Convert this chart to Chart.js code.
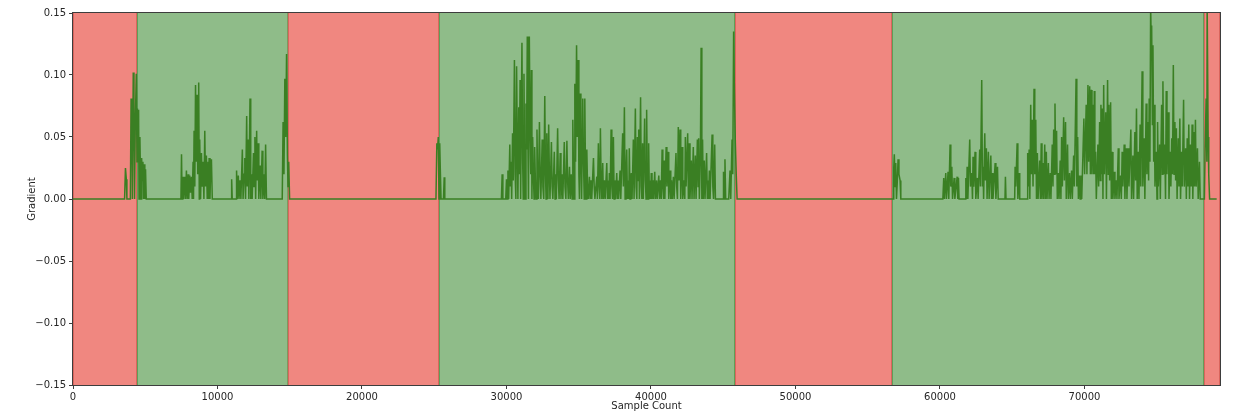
<!DOCTYPE html>
<html>
<head>
<meta charset="utf-8">
<title>Gradient vs Sample Count</title>
<script src="https://cdn.jsdelivr.net/npm/chart.js@4.4.1/dist/chart.umd.min.js"></script>
<style>
  html, body { margin: 0; padding: 0; background: #ffffff; }
  #gradient-chart { display: block; }
</style>
</head>
<body>
<canvas id="gradient-chart" width="1246" height="412"></canvas>
<script>
// --- Data ---

// Axis ranges and ticks
const xMin = 0;
const xMax = 79380;
const xTicks = [0, 10000, 20000, 30000, 40000, 50000, 60000, 70000];
const yTicks = [-0.15, -0.10, -0.05, 0.00, 0.05, 0.10, 0.15];

// Shaded regions (sample count ranges)
const bandStarts = [0, 4450, 14865, 25330, 45840, 56710, 78270];
const bandEnds = [4450, 14865, 25330, 45840, 56710, 78270, 79380];
const bandKinds = ['red', 'green', 'red', 'green', 'red', 'green', 'red'];

// Gradient series, [sample, gradient] pairs, one array per burst
const burst1 = [[0,0],[3570,0],[3630,0.025],[3690,0.016],[3730,0],[3970,0],[4020,0.081],[4070,0.064],[4110,0],
  [4170,0.102],[4220,0.07],[4260,0],[4310,0.06],[4380,0.101],[4430,0.03],[4460,0.073],[4510,0.048],[4540,0.072],
  [4570,0],[4630,0.05],[4670,0.02],[4710,0],[4750,0.033],[4800,0.015],[4840,0.03],[4880,0],[4930,0.028],[4970,0],
  [5020,0.024],[5070,0]];
const burst2 = [[7470,0],[7510,0.036],[7550,0],[7600,0.018],[7650,0],[7700,0.018],[7740,0.01],[7780,0],[7850,0.023],
  [7900,0],[7970,0.02],[8010,0],[8080,0.019],[8130,0.005],[8200,0.018],[8250,0],[8310,0.03],[8340,0],[8380,0.055],
  [8430,0.01],[8480,0.092],[8530,0.03],[8590,0.084],[8630,0.02],[8660,0.05],[8700,0.094],[8740,0],[8770,0.048],
  [8830,0],[8890,0.037],[8940,0.01],[9000,0.03],[9060,0],[9120,0.055],[9170,0.01],[9230,0.035],[9290,0],[9350,0.03],
  [9380,0],[9420,0.033],[9480,0],[9530,0.025],[9580,0.032],[9640,0],[9700,0]];
const burst3 = [[10950,0],[10980,0.016],[11020,0],[11300,0],[11320,0.023],[11370,0],[11440,0.019],[11490,0],
  [11560,0.015],[11620,0],[11720,0.04],[11770,0],[11840,0.02],[11890,0.033],[11940,0],[12020,0.067],[12060,0.01],
  [12120,0.048],[12170,0],[12250,0.081],[12300,0],[12350,0.02],[12400,0],[12490,0.037],[12530,0.01],[12590,0.05],
  [12640,0],[12710,0.055],[12750,0.015],[12810,0.045],[12860,0],[12950,0.027],[13000,0],[13090,0.039],[13140,0],
  [13220,0.02],[13270,0],[13330,0.044],[13390,0]];
const burst4 = [[14480,0],[14540,0.062],[14600,0.02],[14660,0.097],[14720,0.05],[14780,0.117],[14840,0.035],
  [14880,0.01],[14930,0.03],[14990,0],[15050,0]];
const burst5 = [[25120,0],[25180,0.045],[25230,0.04],[25280,0.05],[25330,0],[25380,0.045],[25420,0.024],[25470,0],
  [25640,0],[25690,0.0175],[25730,0]];
const burst6 = [[29650,0],[29700,0.02],[29750,0],[29950,0],[30000,0.016],[30040,0],[30100,0.023],[30150,0],
  [30230,0.044],[30270,0.01],[30320,0.03],[30360,0],[30420,0.053],[30470,0.015],[30550,0.112],[30600,0.02],[30650,0],
  [30700,0.107],[30750,0.04],[30790,0],[30850,0.074],[30890,0.02],[30940,0.096],[30980,0],[31070,0.126],[31120,0.03],
  [31160,0],[31210,0.101],[31260,0.02],[31300,0],[31350,0.077],[31390,0.04],[31440,0.131],[31480,0.05],[31520,0],
  [31580,0.131],[31630,0.06],[31680,0.02],[31720,0.104],[31760,0],[31810,0.05],[31860,0.02],[31910,0],[31950,0.042],
  [32000,0.015],[32060,0],[32110,0.056],[32160,0.01],[32210,0],[32280,0.062],[32330,0.02],[32380,0],[32470,0.048],
  [32520,0.01],[32580,0],[32650,0.083],[32700,0.02],[32740,0],[32790,0.053],[32840,0.015],[32870,0],[32920,0.06],
  [32970,0.02],[33010,0],[33110,0.046],[33160,0.01],[33210,0],[33310,0.038],[33360,0],[33410,0.02],[33450,0],
  [33540,0.057],[33590,0.015],[33640,0],[33720,0.037],[33770,0],[33850,0.02],[33900,0],[34000,0.046],[34050,0.01],
  [34110,0],[34180,0.047],[34230,0.015],[34280,0],[34360,0.026],[34410,0],[34480,0.02],[34540,0],[34590,0.064],
  [34640,0.02],[34680,0],[34730,0.093],[34780,0.03],[34850,0.124],[34900,0.05],[34960,0.112],[35010,0.02],[35050,0],
  [35100,0.085],[35150,0.03],[35200,0],[35280,0.081],[35330,0.03],[35380,0],[35420,0.081],[35470,0.02],[35520,0],
  [35560,0.04],[35610,0.01],[35660,0],[35740,0.018],[35790,0],[35850,0.015],[35900,0],[36020,0.033],[36070,0.01],
  [36120,0],[36250,0.018],[36290,0],[36360,0.045],[36410,0.01],[36460,0],[36500,0.057],[36550,0.015],[36600,0],
  [36660,0.029],[36710,0],[36780,0.015],[36830,0],[36940,0.029],[36990,0],[37050,0.015],[37090,0],[37120,0.021],
  [37170,0],[37240,0.056],[37290,0.01],[37340,0],[37400,0.05],[37450,0],[37500,0.015],[37550,0],[37630,0.021],
  [37680,0],[37720,0.015],[37760,0],[37860,0.023],[37910,0],[38040,0.053],[38090,0.01],[38160,0.074],[38210,0],
  [38270,0.02],[38320,0.04],[38370,0],[38430,0.015],[38470,0],[38500,0.041],[38550,0],[38600,0.015],[38640,0.021],
  [38690,0],[38780,0.048],[38830,0],[38920,0.073],[38970,0.01],[39020,0],[39060,0.05],[39110,0.015],[39150,0.056],
  [39200,0],[39280,0.082],[39330,0.01],[39370,0],[39420,0.045],[39470,0],[39560,0.065],[39610,0.015],[39660,0],
  [39700,0.072],[39750,0.01],[39800,0],[39840,0.045],[39890,0],[39950,0.015],[39990,0],[40020,0.021],[40070,0],
  [40130,0.015],[40180,0],[40260,0.022],[40310,0],[40390,0.015],[40430,0],[40540,0.019],[40590,0],[40660,0.015],
  [40710,0],[40770,0.04],[40820,0.01],[40870,0],[40910,0.031],[40960,0],[41050,0.042],[41100,0.01],[41180,0.038],
  [41230,0],[41320,0.023],[41370,0],[41420,0.015],[41470,0],[41550,0.018],[41600,0],[41730,0.037],[41780,0.01],
  [41830,0],[41890,0.058],[41940,0.015],[42010,0.056],[42060,0],[42150,0.042],[42200,0],[42290,0.015],[42340,0],
  [42380,0.05],[42430,0.01],[42540,0.053],[42590,0],[42650,0.045],[42700,0],[42790,0.031],[42840,0],[42930,0.042],
  [42980,0],[43070,0.035],[43120,0],[43210,0.048],[43260,0.01],[43300,0.049],[43350,0],[43420,0.035],[43470,0.122],
  [43520,0],[43570,0.048],[43620,0],[43690,0.031],[43740,0],[43850,0.037],[43900,0],[43950,0.015],[43990,0],
  [44040,0.023],[44090,0],[44230,0.052],[44280,0.01],[44330,0],[44410,0.044],[44460,0],[44550,0],[45000,0],
  [45020,0.022],[45070,0],[45120,0.032],[45170,0],[45240,0],[45380,0],[45470,0.023],[45520,0],[45610,0.048],
  [45660,0.02],[45720,0.135],[45770,0.09],[45840,0.045],[45900,0.02],[45960,0]];
const burst7 = [[56750,0],[56800,0.025],[56840,0.036],[56900,0.01],[56940,0.029],[56990,0],[57050,0.015],
  [57100,0.032],[57160,0.02],[57240,0.015],[57290,0]];
const burst8 = [[60200,0],[60260,0.017],[60310,0],[60400,0.021],[60450,0],[60560,0.022],[60610,0],[60700,0.044],
  [60750,0.01],[60820,0.026],[60870,0],[60980,0.017],[61030,0],[61190,0.018],[61230,0],[61280,0.017],[61320,0],
  [61740,0],[61790,0.017],[61840,0],[61880,0.026],[61930,0],[62060,0.048],[62110,0.01],[62200,0.021],[62250,0],
  [62290,0.034],[62340,0.01],[62430,0.038],[62480,0],[62590,0.017],[62640,0],[62750,0.04],[62800,0.01],[62890,0.096],
  [62940,0.01],[62980,0.026],[63020,0],[63100,0.053],[63150,0.015],[63210,0.041],[63260,0],[63350,0.038],[63400,0],
  [63520,0.035],[63570,0],[63620,0.021],[63670,0],[63820,0.029],[63870,0],[63980,0.026],[64030,0],[64500,0],
  [64530,0.018],[64570,0],[65170,0],[65200,0.026],[65250,0.01],[65340,0.045],[65390,0],[65470,0.021],[65520,0],
  [66040,0],[66070,0.037],[66120,0.01],[66170,0.04],[66220,0],[66280,0.076],[66330,0.02],[66390,0.064],[66440,0.01],
  [66510,0.089],[66560,0.02],[66630,0.064],[66680,0],[66740,0.037],[66790,0],[66900,0.031],[66950,0],[67010,0.045],
  [67060,0],[67130,0.029],[67180,0],[67250,0.044],[67300,0],[67360,0.038],[67410,0],[67500,0.029],[67550,0],
  [67630,0.021],[67680,0],[67770,0.044],[67820,0.01],[67870,0.056],[67910,0.02],[67960,0.077],[68010,0.02],
  [68070,0.055],[68120,0],[68190,0.021],[68240,0],[68320,0.031],[68370,0],[68420,0.05],[68470,0.01],[68560,0.066],
  [68610,0.015],[68690,0.062],[68740,0],[68830,0.044],[68880,0],[68970,0.021],[69020,0],[69110,0.023],[69160,0],
  [69250,0.035],[69300,0.01],[69420,0.097],[69470,0.01],[69530,0.05],[69580,0],[69650,0.019],[69700,0],[69760,0.019],
  [69810,0],[69960,0.065],[70010,0.02],[70120,0.076],[70170,0.02],[70240,0.092],[70290,0.03],[70360,0.091],
  [70410,0.02],[70470,0.088],[70520,0.02],[70590,0.076],[70640,0.02],[70680,0.087],[70720,0.02],[70770,0.038],
  [70820,0],[70930,0.044],[70980,0.01],[71050,0.062],[71100,0.015],[71140,0.076],[71180,0.02],[71230,0.073],
  [71280,0],[71330,0.092],[71380,0.02],[71470,0.07],[71520,0],[71600,0.096],[71650,0.02],[71690,0.076],[71740,0.015],
  [71810,0.078],[71860,0],[71920,0.038],[71970,0],[72060,0.022],[72110,0],[72200,0.015],[72250,0],[72340,0.041],
  [72390,0],[72500,0.019],[72550,0],[72610,0.038],[72660,0.01],[72750,0.044],[72800,0],[72890,0.041],[72940,0],
  [73030,0.041],[73080,0.01],[73210,0.056],[73260,0],[73350,0.035],[73400,0],[73490,0.054],[73540,0.015],
  [73600,0.073],[73650,0],[73720,0.038],[73770,0],[73850,0.06],[73900,0.01],[73990,0.103],[74040,0.01],[74130,0.049],
  [74180,0],[74270,0.077],[74320,0.02],[74390,0.062],[74440,0.015],[74480,0.081],[74530,0.03],[74580,0.156],
  [74630,0.12],[74650,0.14],[74700,0.06],[74740,0.124],[74790,0.03],[74830,0.076],[74880,0.01],[74970,0.038],
  [75020,0],[75060,0.062],[75110,0.01],[75200,0.044],[75250,0],[75340,0.076],[75390,0.02],[75430,0.095],[75480,0.02],
  [75560,0.044],[75610,0],[75660,0.087],[75710,0.02],[75800,0.07],[75850,0],[75930,0.038],[75980,0.01],[76040,0.049],
  [76090,0.02],[76150,0.108],[76200,0.02],[76260,0.062],[76310,0.015],[76360,0.057],[76410,0],[76490,0.049],
  [76540,0.01],[76600,0.065],[76650,0],[76720,0.038],[76770,0.01],[76860,0.08],[76910,0.01],[77000,0.041],[77050,0],
  [77110,0.049],[77160,0.01],[77220,0.06],[77270,0],[77340,0.044],[77390,0.01],[77450,0.06],[77500,0],[77570,0.054],
  [77620,0.01],[77680,0.064],[77730,0.01],[77820,0.041],[77870,0],[77960,0.03],[78010,0],[78100,0]];
const burst9 = [[78300,0],[78350,0.04],[78420,0.081],[78470,0.03],[78490,0.16],[78530,0.16],[78560,0.05],
  [78600,0.02],[78660,0],[79150,0]];

// Colours
const bandFill = { red: '#f08780', green: '#8fbc89' };
const bandEdge = { red: '#d9655d', green: '#5f9e58' };
const lineColor = '#3a7f23';
const textColor = '#262626';
const frameColor = '#3d3d3d';

const gradientPoints = [].concat(burst1, burst2, burst3, burst4, burst5, burst6, burst7, burst8, burst9)
    .map(p => ({ x: p[0], y: p[1] }));

// Plot area in the reference: left 73, right 1220, top 13, bottom 385
const PLOT_LEFT = 73;
const PLOT_RIGHT_PAD = 26;
const PLOT_TOP = 13;
const X_AXIS_HEIGHT = 27;

/**
 * Shaded spans behind the line (like axvspan)
 */
const bandPlugin = {
    id: 'bands',
    beforeDatasetsDraw(chart) {
        const { ctx, chartArea, scales } = chart;
        const x = scales.x;
        ctx.save();
        ctx.beginPath();
        ctx.rect(chartArea.left, chartArea.top, chartArea.width, chartArea.height);
        ctx.clip();
        bandStarts.forEach((start, i) => {
            const x0 = x.getPixelForValue(start);
            const x1 = x.getPixelForValue(bandEnds[i]);
            const kind = bandKinds[i];
            ctx.fillStyle = bandFill[kind];
            ctx.fillRect(x0, chartArea.top, x1 - x0, chartArea.height);
            ctx.strokeStyle = bandEdge[kind];
            ctx.lineWidth = 1;
            ctx.beginPath();
            ctx.moveTo(Math.round(x0) + 0.5, chartArea.top);
            ctx.lineTo(Math.round(x0) + 0.5, chartArea.bottom);
            ctx.moveTo(Math.round(x1) - 0.5, chartArea.top);
            ctx.lineTo(Math.round(x1) - 0.5, chartArea.bottom);
            ctx.stroke();
        });
        ctx.restore();
    },
    afterDatasetsDraw(chart) {
        // matplotlib style frame on all four sides
        const { ctx, chartArea } = chart;
        ctx.save();
        ctx.strokeStyle = frameColor;
        ctx.lineWidth = 1;
        ctx.strokeRect(Math.round(chartArea.left) - 0.5, Math.round(chartArea.top) - 0.5,
            Math.round(chartArea.width) + 1, Math.round(chartArea.height) + 1);
        ctx.restore();
    }
};

function formatGradient(v) {
    if (Math.abs(v) < 1e-9) return '0.00';
    return (v < 0 ? '\u2212' : '') + Math.abs(v).toFixed(2);
}

const tickFont = { family: 'DejaVu Sans', size: 10 };

const ctx = document.getElementById('gradient-chart').getContext('2d');
new Chart(ctx, {
    type: 'line',
    data: {
        datasets: [{
            label: 'Gradient',
            data: gradientPoints,
            borderColor: lineColor,
            backgroundColor: lineColor,
            borderWidth: 1.5,
            pointRadius: 0,
            fill: false,
            tension: 0
        }]
    },
    options: {
        responsive: false,
        animation: false,
        devicePixelRatio: 1,
        layout: {
            padding: { left: 0, top: PLOT_TOP, right: PLOT_RIGHT_PAD, bottom: 0 }
        },
        plugins: {
            legend: { display: false },
            tooltip: { enabled: false }
        },
        scales: {
            x: {
                type: 'linear',
                min: xMin,
                max: xMax,
                afterFit: scale => { scale.height = X_AXIS_HEIGHT; },
                afterBuildTicks: scale => { scale.ticks = xTicks.map(v => ({ value: v })); },
                ticks: {
                    font: tickFont,
                    color: textColor,
                    padding: 2,
                    maxRotation: 0,
                    callback: v => String(v)
                },
                grid: {
                    drawOnChartArea: false,
                    drawTicks: true,
                    tickLength: 4,
                    tickColor: frameColor
                },
                border: { display: true, color: frameColor },
                title: {
                    display: true,
                    text: 'Sample Count',
                    font: tickFont,
                    color: textColor,
                    padding: { top: 0, bottom: 0 }
                }
            },
            y: {
                type: 'linear',
                min: yTicks[0],
                max: yTicks[yTicks.length - 1],
                afterFit: scale => { scale.width = PLOT_LEFT; },
                afterBuildTicks: scale => { scale.ticks = yTicks.map(v => ({ value: v })); },
                ticks: {
                    font: tickFont,
                    color: textColor,
                    padding: 3,
                    callback: v => formatGradient(v)
                },
                grid: {
                    drawOnChartArea: false,
                    drawTicks: true,
                    tickLength: 4,
                    tickColor: frameColor
                },
                border: { display: true, color: frameColor },
                title: {
                    display: true,
                    text: 'Gradient',
                    font: tickFont,
                    color: textColor,
                    padding: { top: 26, bottom: 0 }
                }
            }
        }
    },
    plugins: [bandPlugin]
});
</script>
</body>
</html>
